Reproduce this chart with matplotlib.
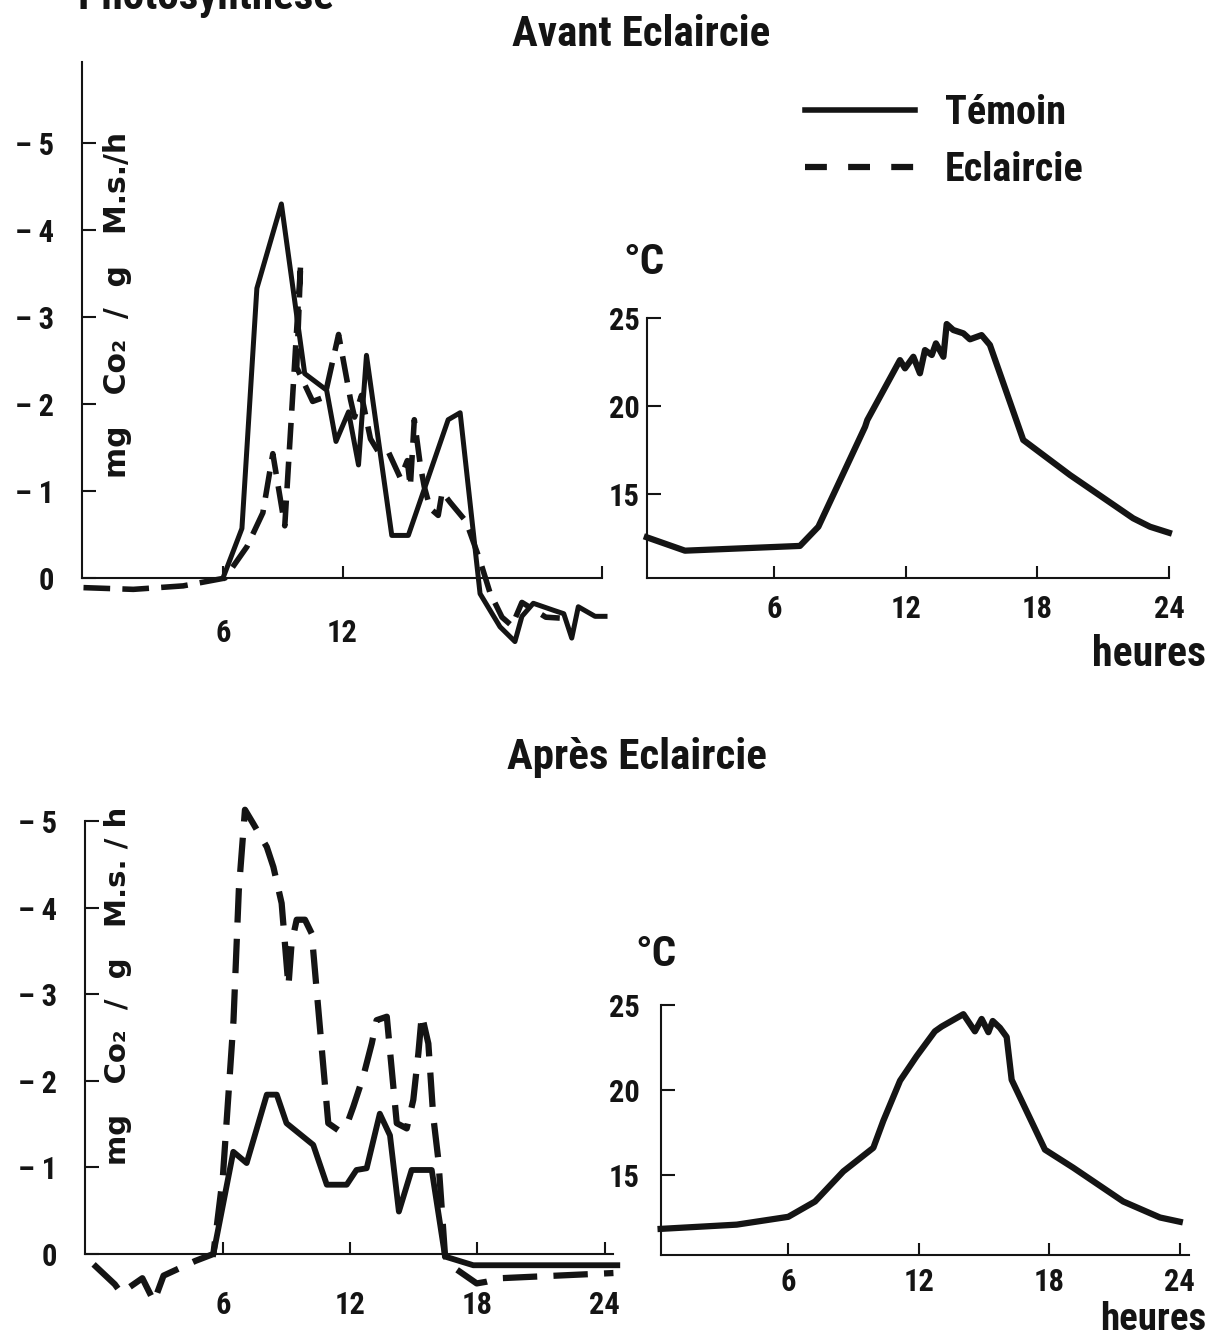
"""Photosynthese / temperature, avant et apres eclaircie"""
import os
import matplotlib
matplotlib.use("Agg")
import matplotlib.pyplot as plt
from matplotlib import font_manager as fm
from matplotlib.lines import Line2D

# ── Data ──
# photosynthesis, mg CO2 / g M.s. / h (negative = uptake), avant eclaircie
temoin_avant_h = [6.0, 6.95, 7.7, 8.93, 10.1, 11.2, 11.67, 12.3, 12.8, 13.2, 14.47, 15.3,
                  17.3, 17.9, 18.9, 19.9, 20.65, 21.0, 21.57, 22.58, 23.1, 23.5, 23.83, 24.67, 25.17]
temoin_avant = [0.0, -0.57, -3.33, -4.30, -2.35, -2.16, -1.57, -1.91, -1.30, -2.56, -0.49, -0.49,
                -1.82, -1.90, 0.18, 0.56, 0.73, 0.44, 0.29, 0.37, 0.41, 0.69, 0.33, 0.44, 0.44]
eclair_avant_h = [-1.0, 1.5, 4.0, 6.1, 7.2, 8.0, 8.5, 9.1, 9.9, 9.7, 10.5, 11.1, 11.8, 12.4,
                  12.6, 12.95, 13.4, 13.8, 14.3, 14.9, 15.25, 15.4, 15.6, 15.9, 16.1, 16.4, 16.8,
                  17.0, 17.4, 18.2, 18.9, 19.4, 20.0, 20.5, 21.0, 22.2, 22.9]
eclair_avant = [0.11, 0.13, 0.09, 0.0, -0.36, -0.75, -1.43, -0.60, -3.62, -2.42, -2.03, -2.08,
                -2.80, -2.05, -1.85, -2.10, -1.60, -1.45, -1.45, -1.15, -1.35, -1.05, -1.82, -1.30,
                -1.05, -0.80, -0.72, -0.99, -0.87, -0.65, -0.20, 0.17, 0.45, 0.55, 0.28, 0.45, 0.46]

# apres eclaircie
temoin_apres_h = [5.55, 6.49, 7.12, 8.07, 8.54, 9.0, 10.26, 10.9, 11.84, 12.3, 12.78, 13.4,
                  13.88, 14.3, 14.9, 15.85, 16.48, 17.81, 24.6]
temoin_apres = [0.0, -1.18, -1.05, -1.84, -1.84, -1.51, -1.26, -0.80, -0.80, -0.97, -0.99, -1.62,
                -1.37, -0.49, -0.97, -0.97, 0.03, 0.13, 0.13]
eclair_apres_h = [-0.1, 0.9, 1.2, 2.2, 2.75, 3.2, 4.7, 5.55, 6.0, 6.5, 6.75, 7.04, 7.43, 8.07,
                  8.38, 8.77, 9.09, 9.24, 9.48, 9.87, 10.19, 10.42, 10.97, 11.44, 11.84, 12.15,
                  12.62, 13.02, 13.25, 13.73, 14.2, 14.67, 14.98, 15.22, 15.38, 15.69, 15.92,
                  16.16, 16.48, 17.03, 17.97, 18.44, 19.07, 24.42]
eclair_apres = [0.12, 0.35, 0.45, 0.28, 0.55, 0.25, 0.08, 0.0, -0.9, -2.7, -4.2, -5.13, -4.97,
                -4.70, -4.47, -4.05, -3.09, -3.59, -3.86, -3.86, -3.70, -3.05, -1.51, -1.43,
                -1.49, -1.70, -2.05, -2.43, -2.70, -2.74, -1.51, -1.45, -1.78, -2.32, -2.76,
                -2.43, -1.59, -1.09, 0.03, 0.18, 0.34, 0.32, 0.28, 0.22]

# air temperature, deg C
temp_avant_h = [0.2, 1.94, 7.18, 8.02, 10.15, 10.25, 11.74, 11.97, 12.35, 12.65, 12.88, 13.19,
                13.38, 13.72, 13.87, 14.17, 14.63, 14.93, 15.46, 15.84, 17.36, 19.49, 22.37,
                23.14, 24.0]
temp_avant = [12.54, 11.78, 12.05, 13.14, 18.82, 19.2, 22.61, 22.14, 22.8, 21.86, 23.18, 22.9,
              23.56, 22.8, 24.66, 24.32, 24.13, 23.79, 24.03, 23.47, 18.07, 16.08, 13.62,
              13.14, 12.8]
temp_apres_h = [0.13, 3.63, 6.0, 7.23, 8.53, 9.91, 10.37, 11.14, 11.9, 12.74, 13.05, 14.05,
                14.58, 14.89, 15.2, 15.4, 15.73, 16.04, 16.27, 17.8, 19.1, 21.4, 23.09, 24.0]
temp_apres = [11.83, 12.08, 12.54, 13.44, 15.21, 16.6, 18.19, 20.55, 21.99, 23.45, 23.73, 24.46,
              23.45, 24.18, 23.4, 24.06, 23.66, 23.12, 20.6, 16.49, 15.43, 13.44, 12.5, 12.25]

photo_yticks = [0, -1, -2, -3, -4, -5]
photo_ylabels = ["0", "\u2013 1", "\u2013 2", "\u2013 3", "\u2013 4", "\u2013 5"]
temp_yticks = [15, 20, 25]
temp_ylabels = ["15", "20", "25"]
hour_ticks = [6, 12, 18, 24]
hour_labels = ["6", "12", "18", "24"]
legend_labels = ["Témoin", "Eclaircie"]

INK = "#141414"


# ── Font: a bold condensed face if one is installed ──
def pick_font():
    order = ["roboto", "dejavu", "liberation", "noto", "opensans", "lato", "inter"]
    found = []
    for f in fm.fontManager.ttflist:
        key = (f.name + os.path.basename(f.fname)).lower()
        for ch in " -_":
            key = key.replace(ch, "")
        if any(k in key for k in ("italic", "oblique", "semicondensed", "extracondensed",
                                  "ultracondensed", "semibold", "extrabold")):
            continue
        if ("condensed" in key or "narrow" in key) and "bold" in key:
            rank = next((i for i, o in enumerate(order) if o in key), len(order))
            found.append((rank, f.fname))
    return sorted(found)[0][1] if found else None


FONT_PATH = pick_font()


def fp(size):
    if FONT_PATH:
        return fm.FontProperties(fname=FONT_PATH, size=size)
    return fm.FontProperties(family="DejaVu Sans", weight="bold", size=size)


def fp_wide(size):
    return fm.FontProperties(family="DejaVu Sans", weight="bold", size=size)


W, H = 1208, 1335
fig = plt.figure(figsize=(W / 100, H / 100), dpi=100)
fig.patch.set_facecolor("white")


def px_axes(x0, y0, x1, y1):
    return fig.add_axes([x0 / W, 1 - y1 / H, (x1 - x0) / W, (y1 - y0) / H])


def px_text(x, y, s, **kw):
    return fig.text(x / W, 1 - y / H, s, **kw)


def base_style(ax):
    ax.patch.set_alpha(0)
    for s in ("top", "right"):
        ax.spines[s].set_visible(False)
    for s in ("left", "bottom"):
        ax.spines[s].set_linewidth(1.5)
        ax.spines[s].set_color(INK)


def style_photo(ax, xlim, ylim, xspan, ytop, xticks, xlabels, xpad):
    base_style(ax)
    ax.set_xlim(*xlim)
    ax.set_ylim(*ylim)
    ax.spines["bottom"].set_position(("data", 0))
    ax.spines["bottom"].set_bounds(*xspan)
    ax.spines["left"].set_bounds(ytop, 0)
    ax.set_yticks(photo_yticks)
    ax.set_yticklabels(photo_ylabels, fontproperties=fp(22))
    ax.set_xticks(xticks)
    ax.set_xticklabels(xlabels, fontproperties=fp(22))
    ax.tick_params(axis="y", direction="in", length=10, width=1.5, pad=20, colors=INK)
    ax.tick_params(axis="x", direction="in", length=9, width=1.5, pad=xpad, colors=INK)


def style_temp(ax, xlim, ylim, xspan, ypad, xpad):
    base_style(ax)
    ax.set_xlim(*xlim)
    ax.set_ylim(*ylim)
    ax.spines["left"].set_bounds(ylim[0], 25)
    ax.spines["bottom"].set_bounds(*xspan)
    ax.set_yticks(temp_yticks)
    ax.set_yticklabels(temp_ylabels, fontproperties=fp(22))
    ax.set_xticks(hour_ticks)
    ax.set_xticklabels(hour_labels, fontproperties=fp(22))
    ax.tick_params(axis="y", direction="in", length=10, width=1.5, pad=ypad, colors=INK)
    ax.tick_params(axis="x", direction="in", length=9, width=1.5, pad=xpad, colors=INK)


# ── Avant eclaircie: photosynthesis ──
ax1 = px_axes(82.1, 60.4, 609.6, 652.0)
style_photo(ax1, (-1.07, 25.4), (0.85, -5.95), (-1.07, 25.0), -5.93,
            [6, 12, 25.0], ["6", "12", ""], 29)
ax1.plot(temoin_avant_h, temoin_avant, color=INK, lw=3.6, clip_on=False)
ax1.plot(eclair_avant_h, eclair_avant, color=INK, lw=4.0, ls=(0, (4.8, 2.2)), clip_on=False)

# ── Apres eclaircie: photosynthesis ──
ax3 = px_axes(85.1, 790.7, 621.5, 1314.6)
style_photo(ax3, (-0.5, 24.8), (0.7, -5.35), (-0.5, 24.4), -5.0,
            hour_ticks, hour_labels, 26)
ax3.plot(temoin_apres_h, temoin_apres, color=INK, lw=4.2, clip_on=False)
ax3.plot(eclair_apres_h, eclair_apres, color=INK, lw=4.5, ls=(0, (5.5, 2.6)), clip_on=False)

px_text(118, 305, "mg   Co\u2082  /  g   M.s./h", rotation=90, ha="center", va="center",
        fontproperties=fp_wide(21.5), color=INK)
px_text(118, 986, "mg   Co\u2082  /  g   M.s. / h", rotation=90, ha="center", va="center",
        fontproperties=fp_wide(21), color=INK)

# ── Temperature panels ──
ax2 = px_axes(646.8, 311.0, 1177.7, 578.3)
style_temp(ax2, (0.2, 24.4), (10.21, 25.4), (0.2, 24.0), 5, 11)
ax2.plot(temp_avant_h, temp_avant, color=INK, lw=4.5, clip_on=False)

ax4 = px_axes(660.6, 998.2, 1188.5, 1254.9)
style_temp(ax4, (0.13, 24.4), (10.3, 25.4), (0.13, 24.4), 15, 9)
ax4.plot(temp_apres_h, temp_apres, color=INK, lw=4.5, clip_on=False)

for (x, y) in ((644, 262), (656, 955)):
    px_text(x, y, "°C", ha="center", va="center", fontproperties=fp(31), color=INK)
px_text(1206, 655, "heures", ha="right", va="center", fontproperties=fp(30), color=INK)
px_text(1206, 1319, "heures", ha="right", va="center", fontproperties=fp(28), color=INK)

# ── Titles ──
px_text(78, 9, "Photosynthese", ha="left", va="baseline", fontproperties=fp(31), color=INK)
px_text(641, 35, "Avant Eclaircie", ha="center", va="center", fontproperties=fp(31), color=INK)
px_text(637, 758, "Après Eclaircie", ha="center", va="center", fontproperties=fp(31), color=INK)

# ── Legend ──
handles = [Line2D([], [], color=INK, lw=4.0),
           Line2D([], [], color=INK, lw=4.5, ls=(0, (3.5, 3.4)))]
fig.legend(handles, legend_labels, loc="upper left", bbox_to_anchor=(805 / W, 1 - 94 / H),
           frameon=False, prop=fp(29), handlelength=2.73, handletextpad=0.74,
           labelspacing=0.47, borderpad=0, borderaxespad=0, labelcolor=INK)

fig.savefig("out.png", dpi=100, facecolor="white")
